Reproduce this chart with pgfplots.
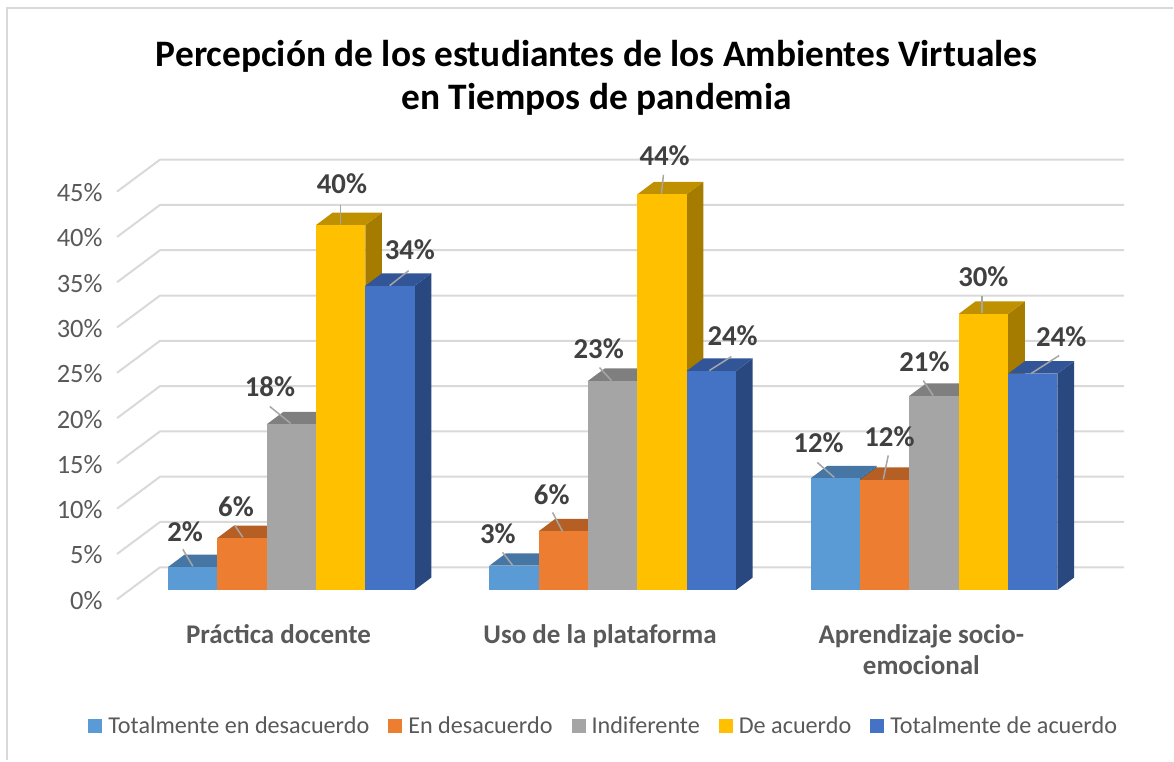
\documentclass[border=0pt]{standalone}
\usepackage{pgfplots}
\pgfplotsset{compat=1.18}
\usepackage{fontspec}
\setmainfont{Carlito}
\definecolor{ca}{HTML}{5B9BD5}\definecolor{cat}{HTML}{4676A4}\definecolor{cas}{HTML}{3E6A93}
\definecolor{cb}{HTML}{ED7D31}\definecolor{cbt}{HTML}{B55F24}\definecolor{cbs}{HTML}{A05520}
\definecolor{cc}{HTML}{A5A5A5}\definecolor{cct}{HTML}{7F7F7F}\definecolor{ccs}{HTML}{707070}
\definecolor{cd}{HTML}{FFC000}\definecolor{cdt}{HTML}{BF9000}\definecolor{cds}{HTML}{A67C00}
\definecolor{ce}{HTML}{4472C4}\definecolor{cet}{HTML}{325598}\definecolor{ces}{HTML}{2A4880}
\definecolor{gridc}{HTML}{D9D9D9}
\definecolor{leader}{HTML}{A6A6A6}
\newcommand\threebar[4]{% group, slot, value, colour stem
  \pgfmathsetmacro\xa{#1+(168+49.4*#2-278)/321.67}
  \pgfmathsetmacro\xb{\xa+0.1536}
  \pgfmathsetmacro\xc{\xa+0.0519}
  \pgfmathsetmacro\xd{\xb+0.0519}
  \pgfmathsetmacro\ya{1.02}
  \pgfmathsetmacro\yb{1.10+#3}
  \pgfmathsetmacro\yc{\ya+1.378}
  \pgfmathsetmacro\yd{\yb+1.378}
  \addplot[forget plot,draw=none,fill=#4s] coordinates {(\xb,\ya)(\xd,\yc)(\xd,\yd)(\xb,\yb)} -- cycle;
  \addplot[forget plot,draw=none,fill=#4t] coordinates {(\xa,\yb)(\xb,\yb)(\xd,\yd)(\xc,\yd)} -- cycle;
  \addplot[forget plot,draw=none,fill=#4] coordinates {(\xa,\ya)(\xb,\ya)(\xb,\yb)(\xa,\yb)} -- cycle;
}
\newcommand\dlabel[7]{% text, label px, label py, leader px1,py1,px2,py2
  \draw[leader,line width=1.5pt] (axis cs:{(#4-278)/321.67},{(600-#5)/9.07}) -- (axis cs:{(#6-278)/321.67},{(600-#7)/9.07});
  \node[font=\fontsize{28.8}{29}\selectfont\bfseries,text=black!75,inner sep=0pt] at (axis cs:{(#2+1.2-278)/321.67},{(600-#3)/9.07}) {#1\%};
}
\begin{document}
\begin{tikzpicture}
\begin{axis}[
  scale only axis,width=965pt,height=408pt,
  xmin=-0.5,xmax=2.5,ymin=0,ymax=45,
  clip=false,axis line style={draw=none},
  tick style={draw=none},
  xtick={0,1,2},
  xticklabels={Práctica docente,Uso de la plataforma,Aprendizaje socio-\\emocional},
  xticklabel style={align=center,font=\fontsize{27}{31}\selectfont\bfseries,text=black!65,yshift=-22pt,xshift=0.8pt},
  ytick={0,5,...,45},
  yticklabels={0\%,5\%,10\%,15\%,20\%,25\%,30\%,35\%,40\%,45\%},
  yticklabel style={font=\fontsize{26.5}{27}\selectfont,text=black!65,xshift=-11pt,yshift=-1pt},
  title={Percepción de los estudiantes de los Ambientes Virtuales\\en Tiempos de pandemia},
  title style={at={(0.4974,1.265)},anchor=center,align=center,font=\fontsize{37.4}{43}\selectfont\bfseries,text=black},
  legend style={at={(0.5047,-0.311)},anchor=center,draw=none,fill=none,legend columns=-1,
    font=\fontsize{24.2}{25}\selectfont,text=black!65,
    /tikz/every odd column/.append style={column sep=4pt},
    /tikz/every even column/.append style={column sep=17pt}},
  legend image code/.code={\fill[#1] (0pt,-7pt) rectangle (14pt,7pt);},
]
% page extent and chart frame
\path (axis cs:{(0-278)/321.67},{(600-761)/9.07}) rectangle (axis cs:{(1174-278)/321.67},{600/9.07});
\draw[gridc,line width=2pt] (axis cs:{(7.5-278)/321.67},{(600-761)/9.07}) -- (axis cs:{(7.5-278)/321.67},{(600-8)/9.07}) -- (axis cs:{(1174-278)/321.67},{(600-8)/9.07});
% walls
\pgfplotsinvokeforeach{0,5,...,45}{
  \pgfmathsetmacro\yg{#1+3.53}
  \addplot[forget plot,gridc,line width=2pt] coordinates {(-0.5,#1)(-0.3663,\yg)(2.6337,\yg)};
}
% bars
\threebar{0}{0}{2.45}{ca}\threebar{0}{1}{5.65}{cb}\threebar{0}{2}{18.2}{cc}\threebar{0}{3}{40.2}{cd}\threebar{0}{4}{33.5}{ce}
\threebar{1}{0}{2.6}{ca}\threebar{1}{1}{6.4}{cb}\threebar{1}{2}{23.0}{cc}\threebar{1}{3}{43.6}{cd}\threebar{1}{4}{24.1}{ce}
\threebar{2}{0}{12.25}{ca}\threebar{2}{1}{12.07}{cb}\threebar{2}{2}{21.35}{cc}\threebar{2}{3}{30.4}{cd}\threebar{2}{4}{23.8}{ce}
% labels
\dlabel{2}{184}{532}{183}{550}{193}{567}
\dlabel{6}{235}{507}{235}{526}{243}{538}
\dlabel{18}{269}{387}{270}{407}{291}{424}
\dlabel{40}{341}{184}{341}{205}{341}{225}
\dlabel{34}{409}{250}{409}{271}{390}{286}
\dlabel{3}{497}{534}{503}{553}{513}{566}
\dlabel{6}{551}{495}{553}{513}{563}{532}
\dlabel{23}{598}{349}{600}{368}{612}{381}
\dlabel{44}{664}{156}{664}{175}{662}{194}
\dlabel{24}{732}{336}{732}{357}{710}{371}
\dlabel{12}{818}{443}{818}{463}{835}{478}
\dlabel{12}{889}{437}{889}{456}{884}{480}
\dlabel{21}{924}{362}{924}{381}{934}{396}
\dlabel{30}{983}{277}{983}{296}{983}{313}
\dlabel{24}{1061}{337}{1060}{356}{1032}{374}
% legend
\addlegendimage{fill=ca,draw=none}\addlegendentry{Totalmente en desacuerdo}
\addlegendimage{fill=cb,draw=none}\addlegendentry{En desacuerdo}
\addlegendimage{fill=cc,draw=none}\addlegendentry{Indiferente}
\addlegendimage{fill=cd,draw=none}\addlegendentry{De acuerdo}
\addlegendimage{fill=ce,draw=none}\addlegendentry{Totalmente de acuerdo}
\end{axis}
\end{tikzpicture}
\end{document}
